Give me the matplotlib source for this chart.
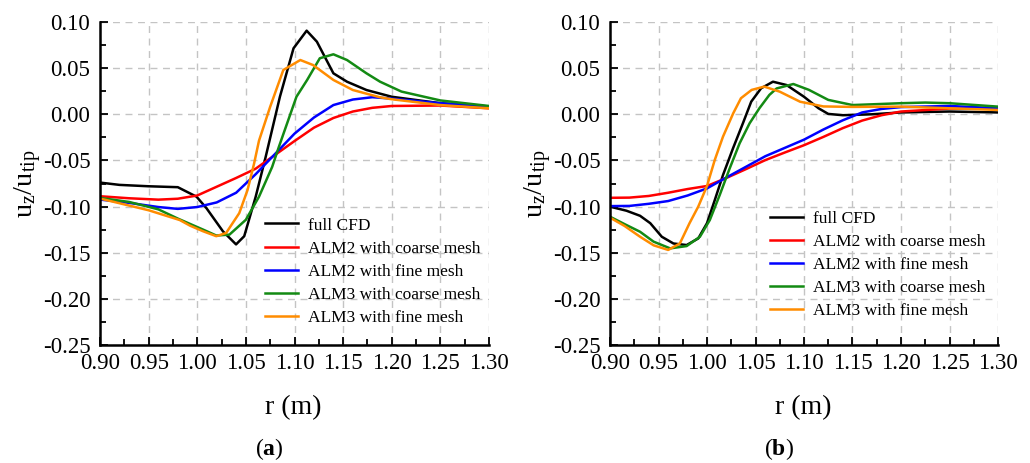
import matplotlib
matplotlib.use('Agg')
from matplotlib import pyplot as plt
from matplotlib.ticker import MultipleLocator, FormatStrFormatter

# ------------------------------ #
# (a) radial profiles of u_z/u_tip

r_cfd_a = [0.90, 0.92, 0.95, 0.98, 0.9993, 1.0095, 1.0264, 1.0399, 1.0483, 1.0601, 1.0703,
           1.085, 1.099, 1.1125, 1.123, 1.14, 1.154, 1.174, 1.20, 1.25, 1.30]
cfd_a = [-0.074, -0.0765, -0.078, -0.079, -0.0893, -0.1018, -0.1268, -0.141, -0.1321, -0.0893, -0.0464,
         0.019, 0.0715, 0.0906, 0.0787, 0.0444, 0.0353, 0.0263, 0.019, 0.012, 0.008]

r_alm2_a = [0.90, 0.93, 0.96, 0.98, 1.00, 1.02, 1.04, 1.06, 1.08, 1.10, 1.12, 1.14, 1.16, 1.18, 1.20, 1.25, 1.30]
alm2_coarse_a = [-0.0888, -0.091, -0.0925, -0.0915, -0.088, -0.0785, -0.069, -0.059, -0.044, -0.029,
                 -0.0145, -0.004, 0.003, 0.007, 0.009, 0.0095, 0.0065]
alm2_fine_a = [-0.0924, -0.096, -0.1005, -0.1025, -0.1005, -0.0955, -0.085, -0.065, -0.043, -0.021,
               -0.0035, 0.010, 0.016, 0.0185, 0.017, 0.012, 0.0085]

r_alm3_coarse_a = [0.90, 0.93, 0.96, 0.98, 1.0061, 1.0196, 1.0331, 1.05, 1.0635, 1.077, 1.0838, 1.102,
                   1.113, 1.126, 1.14, 1.154, 1.174, 1.188, 1.21, 1.25, 1.30]
alm3_coarse_a = [-0.0906, -0.095, -0.103, -0.113, -0.125, -0.1314, -0.1304, -0.1143, -0.0893, -0.0571,
                 -0.0357, 0.019, 0.0372, 0.0607, 0.065, 0.0588, 0.0444, 0.0353, 0.0246, 0.015, 0.009]

r_alm3_fine_a = [0.90, 0.95, 0.982, 0.9926, 1.0061, 1.0196, 1.0297, 1.0432, 1.0517, 1.0584, 1.0635, 1.075,
                 1.0885, 1.106, 1.119, 1.14, 1.16, 1.188, 1.20, 1.25, 1.30]
alm3_fine_a = [-0.0913, -0.104, -0.1146, -0.1207, -0.1268, -0.1321, -0.1286, -0.1071, -0.0821, -0.0536,
               -0.0286, 0.0082, 0.048, 0.0588, 0.0534, 0.0372, 0.0263, 0.0184, 0.0163, 0.010, 0.0065]

# ------------------------------ #
# (b)

r_cfd_b = [0.90, 0.917, 0.931, 0.9415, 0.9534, 0.9654, 0.979, 0.991, 1.000, 1.008, 1.0165, 1.0268, 1.037,
           1.0456, 1.0558, 1.068, 1.082, 1.10, 1.115, 1.125, 1.14, 1.17, 1.20, 1.25, 1.30]
cfd_b = [-0.1001, -0.1045, -0.110, -0.118, -0.1327, -0.140, -0.1417, -0.1345, -0.118, -0.093, -0.0658,
         -0.0369, -0.0098, 0.0137, 0.0282, 0.0353, 0.0317, 0.019, 0.0065, 0.0004, -0.001, 0.000, 0.002,
         0.003, 0.002]

r_alm2_b = [0.90, 0.92, 0.94, 0.96, 0.98, 1.00, 1.02, 1.04, 1.06, 1.08, 1.10, 1.12, 1.14, 1.16, 1.18,
            1.20, 1.25, 1.30]
alm2_coarse_b = [-0.0905, -0.0903, -0.0885, -0.085, -0.081, -0.0777, -0.069, -0.0595, -0.0497, -0.0415,
                 -0.0335, -0.0245, -0.015, -0.0068, -0.001, 0.003, 0.0062, 0.006]
alm2_fine_b = [-0.0995, -0.0993, -0.097, -0.094, -0.088, -0.0803, -0.0685, -0.057, -0.0455, -0.0365,
               -0.0275, -0.0165, -0.0065, 0.002, 0.0058, 0.0078, 0.009, 0.0065]

r_alm3_coarse_b = [0.90, 0.915, 0.931, 0.9449, 0.962, 0.979, 0.9927, 1.0029, 1.0131, 1.0234, 1.0336,
                   1.0439, 1.054, 1.0643, 1.0718, 1.089, 1.105, 1.125, 1.15, 1.20, 1.225, 1.25, 1.30]
alm3_coarse_b = [-0.111, -0.119, -0.1273, -0.138, -0.1453, -0.1428, -0.1327, -0.1146, -0.0875, -0.0586,
                 -0.0315, -0.0098, 0.0065, 0.021, 0.028, 0.0328, 0.0265, 0.0156, 0.010, 0.012, 0.0127,
                 0.012, 0.0083]

r_alm3_fine_b = [0.90, 0.915, 0.931, 0.945, 0.960, 0.972, 0.982, 0.991, 1.000, 1.008, 1.0165, 1.027,
                 1.035, 1.046, 1.059, 1.075, 1.096, 1.12, 1.15, 1.20, 1.30]
alm3_fine_b = [-0.112, -0.121, -0.1327, -0.142, -0.147, -0.140, -0.118, -0.100, -0.0777, -0.0495,
               -0.0242, 0.001, 0.0174, 0.0264, 0.030, 0.0245, 0.0136, 0.0085, 0.008, 0.0083, 0.0047]

labels = ['full CFD', 'ALM2 with coarse mesh', 'ALM2 with fine mesh',
          'ALM3 with coarse mesh', 'ALM3 with fine mesh']
colors = ['#000000', '#ff0000', '#0000ff', '#138a13', '#ff8c00']


def draw_panel(ax, curves, legend_anchor):
    for (r, v), label, color in zip(curves, labels, colors):
        ax.plot(r, v, color=color, lw=1.8, label=label)

    ax.set_xlim(0.90, 1.30)
    ax.set_ylim(-0.25, 0.10)
    ax.xaxis.set_major_locator(MultipleLocator(0.05))
    ax.xaxis.set_minor_locator(MultipleLocator(0.025))
    ax.yaxis.set_major_locator(MultipleLocator(0.05))
    ax.yaxis.set_minor_locator(MultipleLocator(0.025))
    ax.xaxis.set_major_formatter(FormatStrFormatter('%.2f'))
    ax.yaxis.set_major_formatter(FormatStrFormatter('%.2f'))

    ax.tick_params(which='both', direction='in', width=1.3, labelsize=16.5)
    ax.tick_params(which='major', length=6)
    ax.tick_params(which='minor', length=4)
    ax.tick_params(axis='x', pad=6)
    ax.tick_params(axis='y', pad=7)

    for side in ['top', 'right']:
        ax.spines[side].set_visible(False)
    for side in ['left', 'bottom']:
        ax.spines[side].set_linewidth(1.8)

    # dashed grid, but not on the outer edges
    ax.grid(True, which='major', color='#c4c4c4', linestyle=(0, (5, 4)), linewidth=1.0)
    ax.set_axisbelow(True)
    xg = ax.xaxis.get_gridlines()
    yg = ax.yaxis.get_gridlines()
    xg[0].set_visible(False)
    xg[-1].set_visible(False)
    yg[0].set_visible(False)
    yg[-1].set_visible(False)

    ax.legend(loc='upper left', bbox_to_anchor=legend_anchor, frameon=False, fontsize=12.5,
              borderpad=0, borderaxespad=0, handlelength=1.9, handletextpad=0.55,
              labelspacing=0.4)


if __name__ == "__main__":
    plt.rcParams['font.family'] = ['Liberation Serif', 'DejaVu Serif']
    plt.rcParams['mathtext.fontset'] = 'custom'
    plt.rcParams['mathtext.rm'] = 'Liberation Serif'
    plt.rcParams['mathtext.it'] = 'Liberation Serif:italic'
    plt.rcParams['mathtext.bf'] = 'Liberation Serif:bold'
    plt.rcParams['mathtext.default'] = 'regular'
    plt.rcParams['axes.unicode_minus'] = False

    fig = plt.figure(figsize=(10.30, 4.63), dpi=100)
    W, H = 1030.0, 463.0

    ax1 = fig.add_axes([100 / W, 1 - 345 / H, 389 / W, 323 / H])
    ax2 = fig.add_axes([610 / W, 1 - 345 / H, 388 / W, 323 / H])

    draw_panel(ax1, [(r_cfd_a, cfd_a), (r_alm2_a, alm2_coarse_a), (r_alm2_a, alm2_fine_a),
                     (r_alm3_coarse_a, alm3_coarse_a), (r_alm3_fine_a, alm3_fine_a)],
               (0.425, 0.395))
    draw_panel(ax2, [(r_cfd_b, cfd_b), (r_alm2_b, alm2_coarse_b), (r_alm2_b, alm2_fine_b),
                     (r_alm3_coarse_b, alm3_coarse_b), (r_alm3_fine_b, alm3_fine_b)],
               (0.413, 0.415))

    for x0, tag in [(0, 'a'), (510, 'b')]:
        fig.text((x0 + 28) / W, 1 - 184 / H, 'u$_z$/u$_{tip}$', rotation=90,
                 ha='center', va='center', fontsize=20.5)
        fig.text((x0 + 293) / W, 1 - 408 / H, 'r (m)', ha='center', va='center', fontsize=20)
        fig.text((x0 + 269) / W, 1 - 449 / H, r'($\mathbf{' + tag + '}$)',
                 ha='center', va='center', fontsize=17)

    fig.savefig('out.png', dpi=100)
